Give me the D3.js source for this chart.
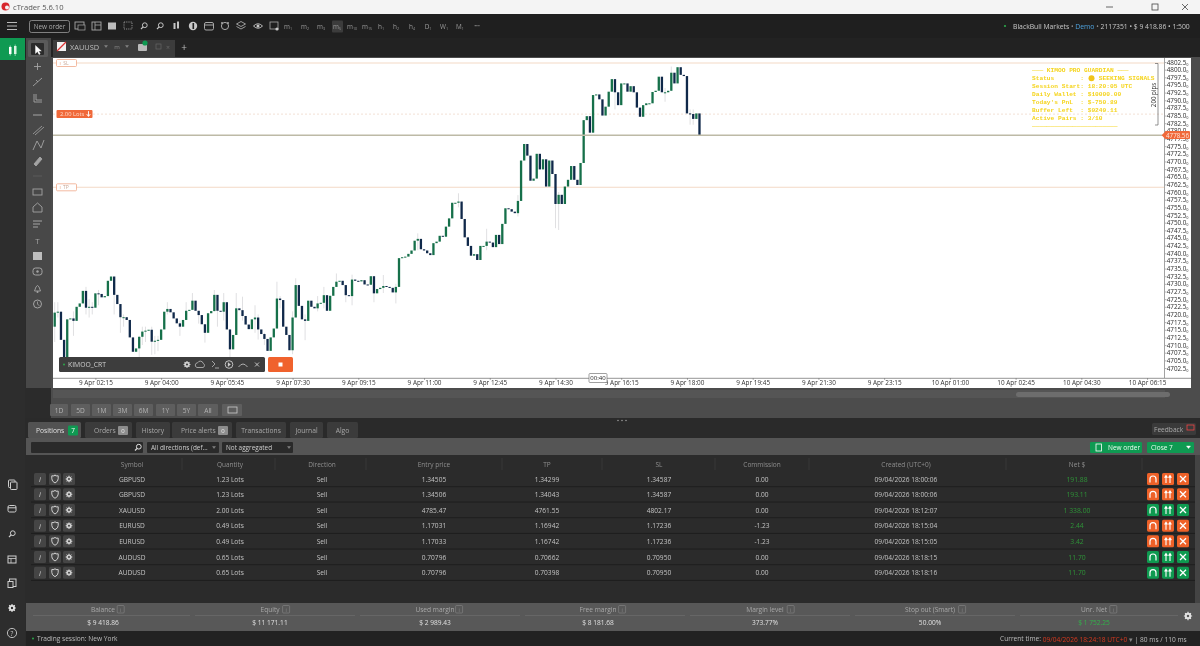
<!DOCTYPE html>
<html><head><meta charset="utf-8">
<script src="https://cdn.jsdelivr.net/npm/d3@7"></script>
<style>html,body{margin:0;padding:0;background:#2a2a2a;overflow:hidden}svg{display:block;filter:blur(.28px)}text{font-family:"Open Sans",Roboto,"Liberation Sans",sans-serif}</style>
</head><body><svg id="c" width="1200" height="646"></svg>
<script>
// ---------- data ----------
const firstOpen = 4716.0;
const barStart = "2026-04-09 01:10";
const closes = [
4720.6,4720.9,4711.7,4705.1,4718.4,4718.7,4717.9,4722.5,4723.6,4727.7,
4722.2,4722.5,4722.2,4726.9,4726.7,4725.6,4726.0,4731.0,4732.4,4726.4,
4723.4,4719.1,4719.1,4718.2,4712.5,4707.8,4708.9,4712.7,4714.4,4714.7,
4715.0,4711.1,4711.4,4711.7,4715.1,4720.9,4721.8,4720.7,4718.7,4717.1,
4716.0,4718.2,4721.2,4721.5,4724.5,4721.2,4719.8,4716.8,4714.0,4720.4,
4721.1,4726.4,4721.2,4720.9,4724.0,4715.1,4708.6,4713.3,4722.0,4721.4,
4719.5,4716.7,4715.2,4718.4,4719.0,4715.1,4713.6,4712.0,4708.1,4712.5,
4715.4,4725.2,4724.7,4716.0,4713.3,4708.3,4719.0,4729.6,4722.8,4718.4,
4717.9,4724.5,4722.5,4722.0,4723.6,4723.8,4726.3,4721.2,4726.1,4729.0,
4730.7,4731.0,4729.6,4726.3,4726.0,4731.4,4731.0,4730.8,4731.2,4729.8,
4729.7,4732.5,4726.9,4728.3,4728.7,4729.3,4729.0,4728.7,4727.2,4729.0,
4738.4,4738.7,4738.9,4739.8,4740.9,4744.1,4744.7,4741.3,4740.9,4740.0,
4739.4,4743.3,4743.8,4745.7,4745.4,4748.7,4751.4,4756.5,4756.5,4756.9,
4751.2,4745.2,4742.4,4739.2,4739.7,4737.8,4742.4,4742.4,4743.8,4743.5,
4742.0,4746.0,4743.0,4749.6,4754.7,4754.4,4753.6,4753.1,4757.1,4770.3,
4775.7,4771.9,4763.7,4764.4,4772.5,4767.4,4770.7,4761.8,4770.3,4765.9,
4756.1,4759.1,4756.1,4761.8,4764.0,4768.5,4764.0,4762.3,4769.5,4783.5,
4784.8,4779.4,4791.7,4791.9,4790.3,4785.0,4787.9,4792.8,4796.9,4792.6,
4788.4,4795.5,4795.5,4792.8,4794.6,4792.6,4787.6,4784.6,4788.4,4789.0,
4789.0,4792.7,4793.1,4797.7,4792.6,4792.6,4793.1,4799.0,4795.5,4800.8,
4798.3,4797.9,4785.7,4785.5,4783.9,4785.7,4778.56];
const wickBars = [0,1,6,10,11,12,14,19,21,22,27,28,29,31,32,33,36,40,42,44,46,48,51,52,54,56,58,60,64,65,67,71,72,76,77,80,84,86,90,93,95,102,105,109,116,129,138,148,161,160,179,195,197,203,204];
const wickHigh = [4724,4724,4721,4729,4725,4724,4728,4730,4720,4720,4713,4716,4716,4716,4713,4713,4724,4718,4724,4727,4720,4715,4728,4722,4727,4711,4727,4725.8,4723,4720,4714,4730.7,4726,4721,4731.8,4720,4726,4729,4733.4,4729,4733,4730,4732.9,4730,4746.5,4759.6,4748,4759,4760,4757,4794,4794,4801,4787,4787];
const wickLow = [4711,4719,4713,4720,4719,4720,4723,4720,4714,4716,4706,4710,4711,4706.8,4707,4708,4720,4713,4720,4723,4717,4710.8,4721,4716,4718,4705,4715,4718,4714,4711.8,4710,4724,4722,4707,4725,4711.6,4721,4722,4729,4724,4723,4724,4727,4723.6,4741,4755,4741,4752,4747.6,4748.2,4787,4789.5,4793,4782,4782];
const priceTicks = [4802.5,4800,4797.5,4795,4792.5,4790,4787.5,4785,4782.5,4780,4777.5,4775,4772.5,4770,4767.5,4765,4762.5,4760,4757.5,4755,4752.5,4750,4747.5,4745,4742.5,4740,4737.5,4735,4732.5,4730,4727.5,4725,4722.5,4720,4717.5,4715,4712.5,4710,4707.5,4705,4702.5];
const timeTicks = ["2026-04-09 02:15","2026-04-09 04:00","2026-04-09 05:45","2026-04-09 07:30","2026-04-09 09:15","2026-04-09 11:00","2026-04-09 12:45","2026-04-09 14:30","2026-04-09 16:15","2026-04-09 18:00","2026-04-09 19:45","2026-04-09 21:30","2026-04-09 23:15","2026-04-10 01:00","2026-04-10 02:45","2026-04-10 04:30","2026-04-10 06:15"];
const currentPrice = 4778.56, entryPrice = 4785.47, slPrice = 4802.17, tpPrice = 4761.55;

const symbols = ["GBPUSD","GBPUSD","XAUUSD","EURUSD","EURUSD","AUDUSD","AUDUSD"];
const quantities = ["1.23 Lots","1.23 Lots","2.00 Lots","0.49 Lots","0.49 Lots","0.65 Lots","0.65 Lots"];
const directions = ["Sell","Sell","Sell","Sell","Sell","Sell","Sell"];
const entries = ["1.34505","1.34506","4785.47","1.17031","1.17033","0.70796","0.70796"];
const tps = ["1.34299","1.34043","4761.55","1.16942","1.16742","0.70662","0.70398"];
const sls = ["1.34587","1.34587","4802.17","1.17236","1.17236","0.70950","0.70950"];
const commissions = ["0.00","0.00","0.00","-1.23","-1.23","0.00","0.00"];
const created = ["09/04/2026 18:00:06","09/04/2026 18:00:06","09/04/2026 18:12:07","09/04/2026 18:15:04","09/04/2026 18:15:05","09/04/2026 18:18:15","09/04/2026 18:18:16"];
const nets = ["191.88","193.11","1 338.00","2.44","3.42","11.70","11.70"];
const rowProfit = [false,false,true,false,false,true,true];
const headers = ["Symbol","Quantity","Direction","Entry price","TP","SL","Commission","Created (UTC+0)","Net $"];
const statLabels = ["Balance","Equity","Used margin","Free margin","Margin level","Stop out (Smart)","Unr. Net"];
const statValues = ["$ 9 418.86","$ 11 171.11","$ 2 989.43","$ 8 181.68","373.77%","50.00%","$ 1 752.25"];
const periods = ["1D","5D","1M","3M","6M","1Y","5Y","All"];
const tfButtons = ["m1","m2","m3","m5","m10","m15","h1","h2","h4","D1","W1","M1"];
const panelTabs = ["Positions","Orders","History","Price alerts","Transactions","Journal","Algo"];
const hud = ["─── KIMOO PRO GUARDIAN ───","Status       :    SEEKING SIGNALS","Session Start: 18:20:05 UTC","Daily Wallet : $10000.00","Today's PnL  : $-750.89","Buffer Left  : $9249.11","Active Pairs : 3/10","───────────────────────"];

// ---------- helpers ----------
const svg = d3.select("#c");
const rect=(x,y,w,h,f,o={})=>{const r=svg.append("rect").attr("x",x).attr("y",y).attr("width",w).attr("height",h).attr("fill",f);if(o.rx)r.attr("rx",o.rx);if(o.stroke)r.attr("stroke",o.stroke).attr("stroke-width",o.sw||.6);return r};
const txt=(x,y,s,o={})=>svg.append("text").attr("x",x).attr("y",y).attr("fill",o.c||"#c8c8c8").attr("font-size",o.s||6.6).attr("text-anchor",o.a||"middle").attr("dominant-baseline","central").attr("font-weight",o.w||400).attr("font-style",o.i||null).text(s);
const line=(x1,y1,x2,y2,c,w=.6,d)=>{const l=svg.append("line").attr("x1",x1).attr("y1",y1).attr("x2",x2).attr("y2",y2).attr("stroke",c).attr("stroke-width",w);if(d)l.attr("stroke-dasharray",d);return l};
const path=(d,c,w=1,f="none")=>svg.append("path").attr("d",d).attr("stroke",c).attr("stroke-width",w).attr("fill",f);
const circ=(x,y,r,f,s,w)=>{const c=svg.append("circle").attr("cx",x).attr("cy",y).attr("r",r).attr("fill",f);if(s)c.attr("stroke",s).attr("stroke-width",w||.8);return c};
const gear=(x,y,r,c)=>{circ(x,y,r*.62,"none",c,r*.55);[0,45,90,135].forEach(a=>{const d=a*Math.PI/180,ca=Math.cos(d)*r*1.15,sa=Math.sin(d)*r*1.15;line(x-ca,y-sa,x+ca,y+sa,c,r*.34).attr("stroke-dasharray",`${r*.5},${r*1.3},${r*.5}`)})};
const mag=(x,y,c)=>{circ(x+.8,y-.8,2.4,"none",c,1);line(x-.8,y+.8,x-3,y+3,c,1.2)};
const shield=(x,y,c)=>path(`M${x-3.2} ${y-3.2}q3.2 .8 3.2-1q0 1.8 3.2 1v3q0 2.6-3.2 4.2q-3.2-1.6-3.2-4.2z`,c,1);

// ---------- backgrounds ----------
rect(0,0,1200,646,"#2b2b2b");
rect(0,0,1200,14,"#f4f4f4");
circ(5.5,6.5,4,"#d8262c");circ(7,7.5,2,"#f4f4f4");
txt(13,7.2,"cTrader 5.6.10",{a:"start",c:"#555",s:7.6});
line(1106,7,1113,7,"#444",.8);
rect(1152,4,6,6,"none",{stroke:"#444",sw:.8});
path("M1182 4l6 6M1188 4l-6 6","#444",.8);
rect(0,14,1200,24,"#1f1f1f");
// left rail
rect(0,38,25,608,"#2d2d2d");
rect(0,38,25,22,"#0f9a52");
rect(9,47,2.5,7,"#fff");line(10.2,45.5,10.2,55.5,"#fff",.6);
rect(14,46,2.5,8,"#d9f5e2");line(15.2,44.5,15.2,56,"#d9f5e2",.6);
rect(25,38,1175,20,"#222");
rect(26,38,25,350,"#484848");
rect(28,40,20,17,"#5a5a5a",{rx:1.5});
rect(31,43,13,12,"#2b2b2b",{rx:1});
path("M35.5 45.5l0 8l2-2l1.5 3l1.2-.6l-1.5-3l2.6 0z","#fff",.4,"#fff");
// toolbar
[22.5,26,29.5].forEach(y=>line(7,y,17,y,"#bbb",1));
rect(29.5,20.5,40,12,"none",{rx:2,stroke:"#999",sw:.8});
txt(49.5,26.7,"New order",{c:"#aaa",s:6.4});
const ic="#a8a8a8";
rect(75,22,9,7,"none",{stroke:ic,sw:.9});rect(78,25,7,5,"#1f1f1f",{stroke:ic,sw:.7});
rect(92,22,9,8,"none",{stroke:ic,sw:.9});line(95,22,95,30,ic,.8);line(95,25,101,25,ic,.8);
rect(108,22.5,8,7,"#bdbdbd");
rect(124,22,8,7,"none",{stroke:ic,sw:.8}).attr("stroke-dasharray","1.2,1");
mag(144,26,"#c4c4c4");mag(160,26,"#c4c4c4");
rect(173.5,23,2,6,"#c4c4c4");rect(177,21.5,2,7,"#c4c4c4");
circ(193,26,4.2,"#c8c8c8");rect(192.5,23,1.6,6,"#1f1f1f");
rect(204.5,22.5,9,7.5,"none",{rx:1.5,stroke:ic,sw:1});line(205,25,213,25,ic,1);
circ(225,26,3.6,"none",ic,1);circ(222,23,1,ic);circ(228,23,1,ic);
path("M241 21.5l4.5 2.5l-4.5 2.5l-4.5-2.5zM236.5 26.5l4.5 2.5l4.5-2.5",ic,.9);
path("M253.5 26q4.5-4.5 9 0q-4.5 4.5-9 0z","#c8c8c8",.9);circ(258,26,1.5,"#c8c8c8");
rect(270,22,8,7,"none",{stroke:ic,sw:.8});circ(277,29,1.6,"#c8c8c8");
rect(332,20.5,11,12,"#3c3c3c",{rx:1});
const tfX=[288,305,321,337,352,367,381,396,412,428,444,460];
tfButtons.forEach((t,i)=>{const m=t.match(/^([a-zA-Z]+)(\d+)$/);
  const tt=txt(tfX[i],26,m[1],{c:"#9b9b9b",s:6.4});
  tt.append("tspan").attr("font-size",3.6).attr("dy",2).text(m[2]);});
txt(477,25.5,"•••",{c:"#999",s:5});
// account
circ(1005,26,1.1,"#2ba84a");
const acc=txt(1013,26,"BlackBull Markets",{a:"start",c:"#c8c8c8",s:6.8});
acc.append("tspan").attr("fill","#888").text(" • ");
acc.append("tspan").attr("fill","#4ea3df").text("Demo");
acc.append("tspan").attr("fill","#888").text(" • ");
acc.append("tspan").text("2117351 • $ 9 418.86 • 1:500");
// chart tab
rect(53,40,122,17,"#3c3c3c");
rect(57,42,9,9,"#f2f2f2");
path("M57 51l9-9","#d33",1.2);
txt(70,47,"XAUUSD",{a:"start",c:"#bbb",s:7.4});
path("M104.5 45.5h3l-1.5 2z","#888",.4,"#888");
txt(117,46.5,"m",{c:"#888",s:6});
path("M125.5 45.5h3l-1.5 2z","#888",.4,"#888");
rect(138,44,9,7,"#bbb",{rx:1});
circ(145,43,2.6,"#0f9a52");
rect(156,44,5,5,"none",{stroke:"#666",sw:.7});txt(168,47,"×",{c:"#666",s:7});
txt(184,46.5,"+",{c:"#bbb",s:10});
// tool column icons
const tc="#a4a4a4";
line(37.5,63,37.5,70,tc,.9);line(34,66.5,41,66.5,tc,.9);
path("M33 86l9-8M36 80l2 2",tc,.9);
path("M34 94v8h8M36 94v6h6",tc,.9);
line(33,115,42,115,tc,1);
path("M33 134l9-8M35 135l9-8",tc,.8);
path("M33 150l4-9l4 7l3-8",tc,.9);
path("M34 164l6-7l2 2l-6 7z",tc,.9,tc);
line(33,176,42,176,"#6a6a6a",.6);
rect(33,189,9,6,"none",{stroke:tc,sw:.9});
path("M37.5 203l4.5 4v5h-9v-5z",tc,.9);
[221,224,227].forEach((y,i)=>line(33,y,33+9-i*2,y,tc,1));
txt(37.5,240,"T",{c:tc,s:8});
rect(33,252,9,8,"#bdbdbd");
rect(33,268,9,7,"none",{rx:2.5,stroke:tc,sw:1});circ(37.5,271.5,1.2,tc);
path("M34.5 291q3-11 6 0z",tc,.9);circ(37.5,292,1,tc);
circ(37.5,304,4,"none",tc,1);path("M37.5 301.5v2.8l2 1.4",tc,.8);
// rail icons
const rc="#cfcfcf";
rect(8.5,480,6.5,7.5,"none",{rx:.8,stroke:rc,sw:1});rect(10.5,482,6.5,7.5,"#2d2d2d",{rx:.8,stroke:rc,sw:1});
rect(8,505.5,8,6.5,"none",{rx:1.5,stroke:rc,sw:1});line(8,507.8,16,507.8,rc,1);
mag(12,534,rc);
rect(8,556,8,7,"none",{stroke:rc,sw:1});line(8,558.5,16,558.5,rc,.8);line(11,558.5,11,563,rc,.8);
rect(9.5,579,6.5,7.5,"none",{stroke:rc,sw:1});rect(8,581.5,5,6,"#2d2d2d",{stroke:rc,sw:1});
gear(12,608,3.4,"#e2e2e2");
circ(12,633,4.6,"none","#ccc",.9);txt(12,633,"?",{c:"#ccc",s:6.5});

// ---------- chart ----------
rect(51,57,1149,331,"#4c4c4c");
rect(53,58,1112,320,"#ffffff");
rect(53,378,1138,10,"#ffffff");
rect(1165,58,26,330,"#ffffff");
line(1164.5,58,1164.5,378,"#8a8a8a",.8);
line(53,378.3,1191,378.3,"#7a7a7a",.8);

const parse=d3.timeParse("%Y-%m-%d %H:%M");
const t0=parse(barStart);
const barTime=i=>new Date(t0.getTime()+i*300000);
const x=d3.scaleTime().domain([t0,barTime(355)]).range([54.7,54.7+3.13*355]);
const y=d3.scaleLinear().domain([4702.5,4802.5]).range([368,62]);

// levels
const sl=y(slPrice),tp=y(tpPrice),en=y(entryPrice),cu=y(currentPrice);
line(53,sl,1164,sl,"#f3d9c6",1.1);
line(53,tp,1164,tp,"#f3d9c6",1.1);
line(53,en,1164,en,"#f0dccf",.9,"2,2");

// candles
const bars=closes.map((c,i)=>({i,c,o:i?closes[i-1]:firstOpen}));
const wicks=wickBars.map((b,k)=>({b,h:wickHigh[k],l:wickLow[k]}));
svg.append("g").selectAll("line").data(wicks).join("line")
  .attr("x1",d=>x(barTime(d.b))).attr("x2",d=>x(barTime(d.b)))
  .attr("y1",d=>y(d.h)).attr("y2",d=>y(d.l))
  .attr("stroke","#d2d2d6").attr("stroke-width",.7);
svg.append("g").selectAll("rect").data(bars).join("rect")
  .attr("x",d=>x(barTime(d.i))-1.15)
  .attr("width",2.3)
  .attr("y",d=>Math.min(y(d.o),y(d.c)))
  .attr("height",d=>Math.max(1,Math.abs(y(d.o)-y(d.c))))
  .attr("fill",d=>d.c>=d.o?"#16704a":"#10294a");

line(53,cu,1164,cu,"#bdbaa6",1.3);

// SL/TP/lot tags
[[sl,"SL"],[tp,"TP"]].forEach(d=>{
  rect(56.5,d[0]-3.5,20,7,"#fff",{rx:1,stroke:"#f0a98a",sw:.8});
  txt(59.5,d[0],"ı",{c:"#e9a283",s:5,a:"start"});
  txt(66,d[0],d[1],{c:"#c9a897",s:5});
});
rect(56.5,en-4,36,8,"#f0693a",{rx:1});
txt(60,en,"2.00 Lots",{a:"start",c:"#ffd9c8",s:5.8});
path(`M88.5 ${en-3}v5M86.7 ${en}l1.8 2.3l1.8-2.3`,"#fff",.9);

// axes
const yAxis=d3.axisRight(y).tickValues(priceTicks).tickSize(1.5).tickFormat(d3.format(".1f"));
const ya=svg.append("g").attr("transform","translate(1165,0)").call(yAxis);
ya.select(".domain").remove();
ya.selectAll("line").attr("stroke","#666").attr("stroke-width",.5);
ya.selectAll("text").attr("x",1.7).attr("font-size",6.3).attr("fill","#2a2a2a").style("font-family","'Open Sans',sans-serif")
  .append("tspan").attr("font-size",3.8).attr("dy",1).text("0");
rect(1165,131,25,8,"#f0693a",{rx:1});
path(`M1161.7 ${cu}l3.8-4v8z`,"#f0693a",0,"#f0693a");
txt(1177.5,cu,"4778.56",{c:"#ffe6da",s:6.2});

const xAxis=d3.axisBottom(x).tickValues(timeTicks.map(parse)).tickSize(2)
  .tickFormat(d=>d3.timeFormat("%-d %b %H:%M")(d));
const xa=svg.append("g").attr("transform","translate(0,378)").call(xAxis);
xa.select(".domain").remove();
xa.selectAll("line").attr("stroke","#666").attr("stroke-width",.5);
xa.selectAll("text").attr("y",2.6).attr("font-size",6.4).attr("fill","#333").style("font-family","'Open Sans',sans-serif");

// time tag
rect(589,373.5,18,9,"#fff",{rx:1,stroke:"#777",sw:.7});
txt(598,378,"00:40",{c:"#222",s:6});

// HUD
const hudY=[70,78.3,86,94,102,110.3,118.7,126.7];
hud.forEach((s,i)=>{
  svg.append("text").attr("x",1032).attr("y",hudY[i]).attr("dominant-baseline","central")
   .attr("font-size",6.2).attr("fill","#f5d41c").style("font-family","'Liberation Mono','DejaVu Sans Mono',monospace").style("white-space","pre").attr("font-weight",700).text(s);
});
circ(1091.5,78.3,3,"#f0c419");
path("M1155 63.5h3v61.5h-3","#666",.7);
txt(0,0,"200 pips",{c:"#333",s:6.2}).attr("transform","translate(1153.5,95) rotate(-90)");

// algo bar
rect(59,357,206,15,"#3d3d3d",{rx:1.5});
circ(64,364.5,1,"#2ba84a");
txt(68,364.5,"KIMOO_CRT",{a:"start",c:"#cfcfcf",s:6.8});
gear(187,364.5,3,"#cfcfcf");
path("M197 367.5a2.4 2.4 0 0 1 .6-4.7a3 3 0 0 1 5.6 .6a2.2 2.2 0 0 1-.2 4.1z","#bcbcbc",.8);
path("M212 361l3 3l-3 3M215 368h4","#bcbcbc",.8);
circ(229,364.5,3.8,"none","#cfcfcf",.9);path("M228 362.5l2.6 2l-2.6 2z","#cfcfcf",.3,"#cfcfcf");
path("M238.5 367q4.5-6 9 0","#bcbcbc",.9);
path("M255 362.5l4 4M259 362.5l-4 4","#cfcfcf",.9);
rect(268,357,25,15,"#f0622d",{rx:1.5});
rect(278.5,362.5,4,4,"#fff");

// ---------- below chart ----------
rect(51,388,1149,34,"#4c4c4c");
rect(53,390,1112,8,"#555");
rect(1016,392,154,5,"#6d6d6d",{rx:2.5});
const pX=[[50,18],[71,19],[92,19],[113,19],[134,19],[156,19],[177,19],[198,20]];
periods.forEach((p,i)=>{rect(pX[i][0],404,pX[i][1],12,"#5e5e5e",{rx:1});txt(pX[i][0]+pX[i][1]/2,410,p,{c:"#b4b4b4",s:6.6});});
rect(222,404,20,12,"#5e5e5e",{rx:1});
rect(228,407,9,6,"none",{stroke:"#ccc",sw:.8});
rect(25,418,1175,20,"#2a2a2a");
[618,622,626].forEach(v=>circ(v,420.5,.8,"#999"));
const tabX=[[28,53],[85,47],[136,34],[172,60],[236,50],[290,33],[327,31]];
panelTabs.forEach((t,i)=>{
  rect(tabX[i][0],422,tabX[i][1],16,i?"#3b3b3b":"#525252",{rx:1.5});
  const cx=i===0?36:i===1?94:i===3?181:tabX[i][0]+tabX[i][1]/2;
  txt(cx,430,t,{a:(i<2||i===3)?"start":"middle",c:i?"#a8a8a8":"#e0e0e0",s:6.7});
});
rect(68,425.5,10,10,"#0f9a52",{rx:1.2});txt(73,430.5,"7",{c:"#fff",s:6.4});
rect(118,426,10,9,"#8d8d8d",{rx:1});txt(123,430.5,"0",{c:"#eee",s:6});
rect(218,426,10,9,"#8d8d8d",{rx:1});txt(223,430.5,"0",{c:"#eee",s:6});
rect(1152,423,44,12,"#3a3a3a",{rx:1.5});
txt(1154,429,"Feedback",{a:"start",c:"#aaa",s:6.6});
rect(1187,425,7,5,"none",{stroke:"#e44",sw:.8});
// filter row
rect(26,438,1174,17,"#555");
rect(31,442,112,11,"#2a2a2a",{rx:1});
mag(138,447.5,"#ddd");
rect(147,442,72,11,"#2a2a2a",{rx:1});
txt(151,447.5,"All directions (def...",{a:"start",c:"#cfcfcf",s:6.4});path("M212.5 446.5h3l-1.5 2z","#888",.4,"#888");
rect(222,442,71,11,"#2a2a2a",{rx:1});
txt(226,447.5,"Not aggregated",{a:"start",c:"#cfcfcf",s:6.4});path("M287.5 446.5h3l-1.5 2z","#888",.4,"#888");
rect(1090,442,52,11,"#0f9a52",{rx:1.2});
rect(1096,444,5.5,7,"none",{stroke:"#fff",sw:.8});
txt(1108,447.5,"New order",{a:"start",c:"#eafff0",s:6.5});
rect(1147,442,47,11,"#0f9a52",{rx:1.2});
txt(1151,447.5,"Close   7",{a:"start",c:"#eafff0",s:6.5});
path("M1186.5 446h4l-2 2.6z","#fff",.4,"#fff");

// table
rect(31,455,1164,148,"#2b2b2b");
rect(1195,455,5,148,"#444");
const colX=[132,230,322,434,547,659,762,906,1077];
const colEdge=[182,275,366,502,602,715,809,1006,1142];
headers.forEach((h,i)=>{txt(colX[i],464,h,{c:"#8f8f8f",s:6.5});line(colEdge[i],458,colEdge[i],470,"#3d3d3d",.7);});
const rowY=[479,494.3,510,525.7,541.3,557,572.7];
const cols=[symbols,quantities,directions,entries,tps,sls,commissions,created];
rowY.forEach((ry,r)=>{
  line(31,ry+7.7,1195,ry+7.7,"#1a1a1a",.8);
  [34,49,63].forEach(bx=>rect(bx,ry-6,12,12,"#454545",{rx:1.5}));
  txt(40,ry,"i",{c:"#c9c9c9",s:7.5,i:"italic"});
  shield(55,ry,"#cfcfcf");
  gear(69,ry,2.9,"#cfcfcf");
  cols.forEach((c,k)=>txt(colX[k],ry,c[r],{c:"#c4c4c4",s:6.6}));
  txt(colX[8],ry,nets[r],{c:"#2e9438",s:6.8});
  const bc=rowProfit[r]?"#0e9a50":"#ee6128";
  [1147,1162,1177].forEach((bx,k)=>{
    rect(bx,ry-6,12,12,bc,{rx:1.6});
    if(k===0) path(`M${bx+3} ${ry+3.5}v-3.5a3 3 0 0 1 6 0v3.5`,"#fff",1.2);
    if(k===1) path(`M${bx+4} ${ry+4}v-7M${bx+2.6} ${ry-1.2}l1.4-2.2l1.4 2.2M${bx+8} ${ry+4}v-7M${bx+6.6} ${ry-1.2}l1.4-2.2l1.4 2.2`,"#fff",1.1);
    if(k===2) path(`M${bx+3} ${ry-3}l6 6M${bx+9} ${ry-3}l-6 6`,"#fff",1.3);
  });
});

// stats
rect(26,603,1174,28,"#585858");
const statX=[103,270,435,598,765,930,1094];
const statEdge=[[33,190],[195,355],[360,520],[525,685],[690,850],[855,1015],[1020,1178]];
statLabels.forEach((l,i)=>{
  txt(statX[i],609.5,l,{c:"#a8a8a8",s:6.6});
  const tw=l.length*3.2;
  rect(statX[i]+tw/2+3,605.5,7,7.5,"none",{rx:1,stroke:"#888",sw:.6});
  txt(statX[i]+tw/2+6.5,609.5,"i",{c:"#888",s:5});
  line(statEdge[i][0],615.5,statEdge[i][1],615.5,"#6d6d6d",.7);
  txt(statX[i],622.5,statValues[i],{c:i===6?"#32b44a":"#e0e0e0",s:6.6});
});
gear(1188,616,3.6,"#e2e2e2");
// status bar
rect(26,631,1174,15,"#222");
circ(33,638.5,1,"#2ba84a");
txt(37,638.5,"Trading session: New York",{a:"start",c:"#bdbdbd",s:6.6});
const ct=txt(1000,638.5,"Current time: ",{a:"start",c:"#bdbdbd",s:6.6});
ct.append("tspan").attr("fill","#d8391f").text("09/04/2026 18:24:18  UTC+0");
ct.append("tspan").attr("fill","#888").text("   ▾   ");
ct.append("tspan").text("|  80 ms / 110 ms");
</script></body></html>
